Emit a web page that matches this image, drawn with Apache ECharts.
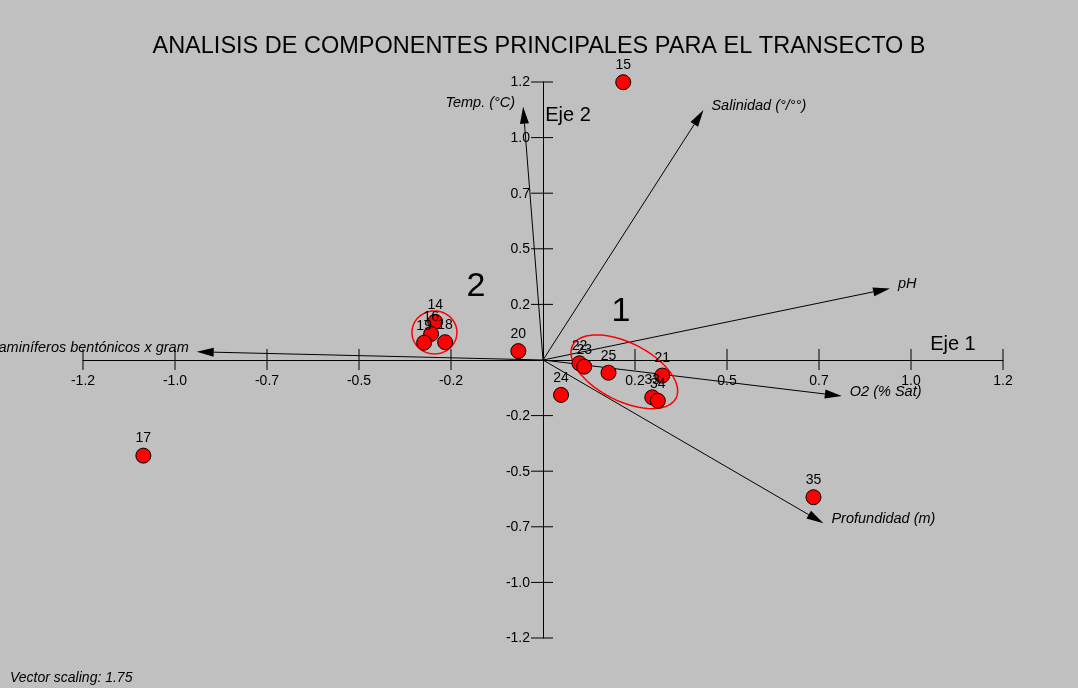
<!DOCTYPE html>
<html>
<head>
<meta charset="utf-8">
<script src="https://cdn.jsdelivr.net/npm/echarts@6/dist/echarts.min.js"></script>
<style>
  html, body { margin: 0; padding: 0; background: #c0c0c0; }
  #main { width: 1078px; height: 688px; }
</style>
</head>
<body>
<div id="main"></div>
<script>
// tick values and the (truncated) labels the original program printed
const xTicks = [-1.25, -1, -0.75, -0.5, -0.25, 0, 0.25, 0.5, 0.75, 1, 1.25];
const xTickLabels = ['-1.2', '-1.0', '-0.7', '-0.5', '-0.2', '', '0.2', '0.5', '0.7', '1.0', '1.2'];
const yTicks = [-1.25, -1, -0.75, -0.5, -0.25, 0, 0.25, 0.5, 0.75, 1, 1.25];
const yTickLabels = ['-1.2', '-1.0', '-0.7', '-0.5', '-0.2', '', '0.2', '0.5', '0.7', '1.0', '1.2'];

// sample scores
const sampleNames = ['15', '17', '14', '16', '19', '18', '20', '22', '23', '25', '21', '24', '33', '34', '35'];
const sampleAxis1 = [0.218, -1.086, -0.293, -0.304, -0.323, -0.266, -0.067, 0.099, 0.112, 0.178, 0.324, 0.049, 0.297, 0.312, 0.735];
const sampleAxis2 = [1.249, -0.430, 0.172, 0.117, 0.078, 0.080, 0.040, -0.015, -0.030, -0.057, -0.070, -0.157, -0.168, -0.183, -0.617];

// variable vectors
const varNames = ['Temp. (°C)', 'Salinidad (°/°°)', 'pH', 'O2 (% Sat)', 'Profundidad (m)', 'Foraminíferos bentónicos x gram'];
const varAxis1 = [-0.054, 0.436, 0.943, 0.812, 0.762, -0.941];
const varAxis2 = [1.139, 1.124, 0.322, -0.162, -0.734, 0.037];

// groups
const groupNames = ['1', '2'];
const groupCenterX = [0.221, -0.295];
const groupCenterY = [-0.053, 0.124];
const groupLabelX = [0.212, -0.182];
const groupLabelY = [0.216, 0.328];

// axis names
const axisNames = ['Eje 1', 'Eje 2'];
const axisNameX = [1.114, 0.068];
const axisNameY = [0.072, 1.100];

const FONT = '"Liberation Sans", Arial, sans-serif';
const ellipseShapes = [{ rx: 58, ry: 29, rot: 27 }, { rx: 22.5, ry: 21.5, rot: 0 }];

const chart = echarts.init(document.getElementById('main'), null, { renderer: 'canvas' });

let samples = [];
for (let i in sampleNames) {
  samples.push([sampleAxis1[i], sampleAxis2[i], sampleNames[i]]);
}
let vectors = [];
for (let i in varNames) {
  vectors.push([varAxis1[i], varAxis2[i], varNames[i]]);
}
let groups = [];
for (let i in groupNames) {
  groups.push([groupCenterX[i], groupCenterY[i], Number(i)]);
}
let texts = [];
for (let i in groupNames) {
  texts.push([groupLabelX[i], groupLabelY[i], groupNames[i], 34]);
}
for (let i in axisNames) {
  texts.push([axisNameX[i], axisNameY[i], axisNames[i], 20]);
}
let xTickData = [];
for (let i in xTicks) {
  if (xTicks[i] !== 0) xTickData.push([xTicks[i], xTickLabels[i]]);
}
let yTickData = [];
for (let i in yTicks) {
  if (yTicks[i] !== 0) yTickData.push([yTicks[i], yTickLabels[i]]);
}

const option = {
  backgroundColor: '#c0c0c0',
  animation: false,
  title: {
    text: 'ANALISIS DE COMPONENTES PRINCIPALES PARA EL TRANSECTO B',
    left: 'center',
    top: 30,
    textStyle: { fontSize: 23.5, fontWeight: 'normal', color: '#000', fontFamily: FONT }
  },
  graphic: [{
    type: 'text',
    left: 10,
    top: 671,
    style: { text: 'Vector scaling: 1.75', font: 'italic 14px ' + FONT, fill: '#000' }
  }],
  grid: { left: 83, right: 75, top: 82, bottom: 50 },
  xAxis: {
    type: 'value', min: -1.25, max: 1.25, interval: 0.25,
    axisLine: { onZero: true, lineStyle: { color: '#000', width: 1 } },
    axisTick: { show: false },
    splitLine: { show: false },
    axisLabel: { show: false }
  },
  yAxis: {
    type: 'value', min: -1.25, max: 1.25, interval: 0.25,
    axisLine: { onZero: true, lineStyle: { color: '#000', width: 1 } },
    axisTick: { show: false },
    splitLine: { show: false },
    axisLabel: { show: false }
  },
  series: [
    {
      // crossing tick marks and labels on the x axis
      type: 'custom',
      data: xTickData,
      renderItem: function (params, api) {
        const p = api.coord([api.value(0), 0]);
        return {
          type: 'group',
          children: [
            { type: 'line', shape: { x1: p[0], y1: p[1] - 11, x2: p[0], y2: p[1] + 10 }, style: { stroke: '#000', lineWidth: 1 } },
            { type: 'text', style: { text: xTickData[params.dataIndex][1], x: p[0], y: p[1] + 21, align: 'center', verticalAlign: 'middle', font: '14px ' + FONT, fill: '#000' } }
          ]
        };
      }
    },
    {
      // crossing tick marks and labels on the y axis
      type: 'custom',
      data: yTickData,
      renderItem: function (params, api) {
        const p = api.coord([0, api.value(0)]);
        return {
          type: 'group',
          children: [
            { type: 'line', shape: { x1: p[0] - 12, y1: p[1], x2: p[0] + 10, y2: p[1] }, style: { stroke: '#000', lineWidth: 1 } },
            { type: 'text', style: { text: yTickData[params.dataIndex][1], x: p[0] - 13, y: p[1] + 0.5, align: 'right', verticalAlign: 'middle', font: '14px ' + FONT, fill: '#000' } }
          ]
        };
      }
    },
    {
      // variable vectors
      type: 'custom',
      data: vectors,
      renderItem: function (params, api) {
        const o = api.coord([0, 0]);
        const t = api.coord([api.value(0), api.value(1)]);
        const dx = t[0] - o[0], dy = t[1] - o[1];
        const len = Math.sqrt(dx * dx + dy * dy);
        const ux = dx / len, uy = dy / len;
        const bx = t[0] - ux * 17, by = t[1] - uy * 17;
        const px = -uy * 4.5, py = ux * 4.5;
        const left = api.value(0) < 0;
        return {
          type: 'group',
          children: [
            { type: 'line', shape: { x1: o[0], y1: o[1], x2: bx, y2: by }, style: { stroke: '#000', lineWidth: 1 } },
            { type: 'polygon', shape: { points: [[t[0], t[1]], [bx + px, by + py], [bx - px, by - py]] }, style: { fill: '#000' } },
            {
              type: 'text',
              style: {
                text: vectors[params.dataIndex][2],
                x: t[0] + (left ? -8 : 8), y: t[1] - 4,
                align: left ? 'right' : 'left', verticalAlign: 'middle',
                font: 'italic 14.5px ' + FONT, fill: '#000'
              }
            }
          ]
        };
      }
    },
    {
      // group ellipses
      type: 'custom',
      data: groups,
      renderItem: function (params, api) {
        const c = api.coord([api.value(0), api.value(1)]);
        const s = ellipseShapes[api.value(2)];
        const th = s.rot * Math.PI / 180;
        let pts = [];
        for (let k = 0; k < 72; k++) {
          const a = k / 72 * Math.PI * 2;
          const ex = s.rx * Math.cos(a), ey = s.ry * Math.sin(a);
          pts.push([c[0] + ex * Math.cos(th) - ey * Math.sin(th), c[1] + ex * Math.sin(th) + ey * Math.cos(th)]);
        }
        return { type: 'polygon', shape: { points: pts }, style: { fill: 'none', stroke: '#ff0000', lineWidth: 1.5 } };
      }
    },
    {
      // big annotations
      type: 'custom',
      data: texts,
      renderItem: function (params, api) {
        const p = api.coord([api.value(0), api.value(1)]);
        const d = texts[params.dataIndex];
        return {
          type: 'text',
          style: { text: d[2], x: p[0], y: p[1], align: 'center', verticalAlign: 'middle', font: d[3] + 'px ' + FONT, fill: '#000' }
        };
      }
    },
    {
      type: 'scatter',
      data: samples,
      symbol: 'circle',
      symbolSize: 15,
      itemStyle: { color: '#ff0000', borderColor: '#000', borderWidth: 1, opacity: 1 },
      label: {
        show: true, position: 'top', distance: 2,
        color: '#000', fontSize: 14, fontFamily: FONT,
        formatter: p => p.data[2]
      }
    }
  ]
};

chart.setOption(option);
</script>
</body>
</html>
